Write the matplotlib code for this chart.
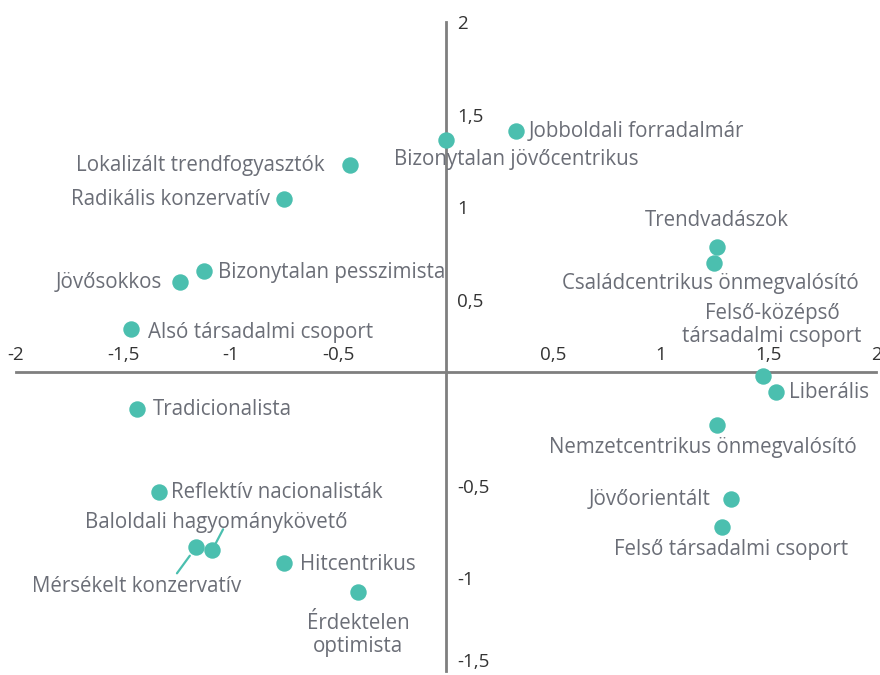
import matplotlib
matplotlib.use("Agg")
import matplotlib.pyplot as plt
from matplotlib.ticker import FuncFormatter

plt.rcParams['font.family'] = ['Open Sans', 'DejaVu Sans']

labels = ["Jobboldali forradalmár", "Bizonytalan jövőcentrikus", "Lokalizált trendfogyasztók",
          "Radikális konzervatív", "Trendvadászok", "Családcentrikus önmegvalósító",
          "Bizonytalan pesszimista", "Jövősokkos", "Felső-középső\ntársadalmi csoport",
          "Alsó társadalmi csoport", "Liberális", "Tradicionalista",
          "Nemzetcentrikus önmegvalósító", "Reflektív nacionalisták", "Jövőorientált",
          "Felső társadalmi csoport", "Baloldali hagyománykövető", "Mérsékelt konzervatív",
          "Hitcentrikus", "Érdektelen\noptimista"]
x_vals = [0.326, 0.0, -0.447, -0.753, 1.26, 1.247, -1.126, -1.237, 1.474, -1.465,
          1.535, -1.437, 1.26, -1.335, 1.326, 1.284, -1.088, -1.163, -0.753, -0.409]
y_vals = [1.414, 1.366, 1.23, 1.048, 0.785, 0.70, 0.656, 0.60, 0.09, 0.344,
          0.005, -0.086, -0.172, -0.532, -0.57, -0.726, -0.849, -0.833, -0.919, -1.075]
x_ticks = [-2, -1.5, -1, -0.5, 0.5, 1, 1.5, 2]
y_ticks = [-1.5, -1, -0.5, 0.5, 1, 1.5, 2]

# label placement: (dx px, dy px, ha)
place = [(13, -1, 'left'), (70, -20, 'center'), (-25, -1, 'right'), (-14, -1, 'right'),
         (0, 27, 'center'), (-4, -20, 'center'), (14, -1, 'left'), (-18, -1, 'right'),
         (9, 51, 'center'), (17, -3, 'left'), (13, -1, 'left'), (16, -1, 'left'),
         (-14, -23, 'center'), (12, -1, 'left'), (-21, -1, 'right'), (9, -22, 'center'),
         (4, 28, 'center'), (-59, -39, 'center'), (16, -1, 'left'), (0, -43, 'center')]
# leader lines: index -> (far end dx, dy px, shrink pt)
leaders = {16: (11, 21, 5), 17: (-19, -26, 7.5)}

TEAL = '#4bbfaf'
TXT = '#6b6e77'
PX = 72 / 100.0

fig = plt.figure(figsize=(8.8, 6.75), dpi=100)
ax = fig.add_axes([16 / 880, 4 / 675, 860 / 880, 649 / 675])
ax.set_xlim(-2, 2)
ax.set_ylim(-1.5, 2)

for s in ['bottom', 'left']:
    ax.spines[s].set_visible(False)
ax.spines['top'].set_position(('data', 0.11))
ax.spines['right'].set_position(('data', 0))
for s in ['top', 'right']:
    ax.spines[s].set_color('#7f7f7f')
    ax.spines[s].set_linewidth(2)
ax.xaxis.tick_top()
ax.yaxis.tick_right()
fmt = FuncFormatter(lambda v, p: ('%g' % v).replace('.', ','))
ax.set_xticks(x_ticks)
ax.set_yticks(y_ticks)
ax.xaxis.set_major_formatter(fmt)
ax.yaxis.set_major_formatter(fmt)
ax.tick_params(axis='x', length=0, pad=6, labelsize=13.5, labelcolor='#333333')
ax.tick_params(axis='y', length=0, pad=8, labelsize=13.5, labelcolor='#333333')
for lab in ax.get_yticklabels():
    if lab.get_text() == '-1,5':
        lab.set_verticalalignment('bottom')

ax.scatter(x_vals, y_vals, s=140, color=TEAL, zorder=5, linewidths=0)

for i, (lab, xv, yv) in enumerate(zip(labels, x_vals, y_vals)):
    dx, dy, ha = place[i]
    ax.annotate(lab, (xv, yv), xytext=(dx * PX, dy * PX), textcoords='offset points',
                ha=ha, va='center', fontsize=14.8, color=TXT, linespacing=1.12,
                zorder=6)
for i, (dx, dy, sh) in leaders.items():
    ax.annotate('', (x_vals[i], y_vals[i]), xytext=(dx * PX, dy * PX),
                textcoords='offset points',
                arrowprops=dict(arrowstyle='-', color=TEAL, lw=1.6, shrinkA=0, shrinkB=sh))

fig.savefig('out.png', dpi=100)
